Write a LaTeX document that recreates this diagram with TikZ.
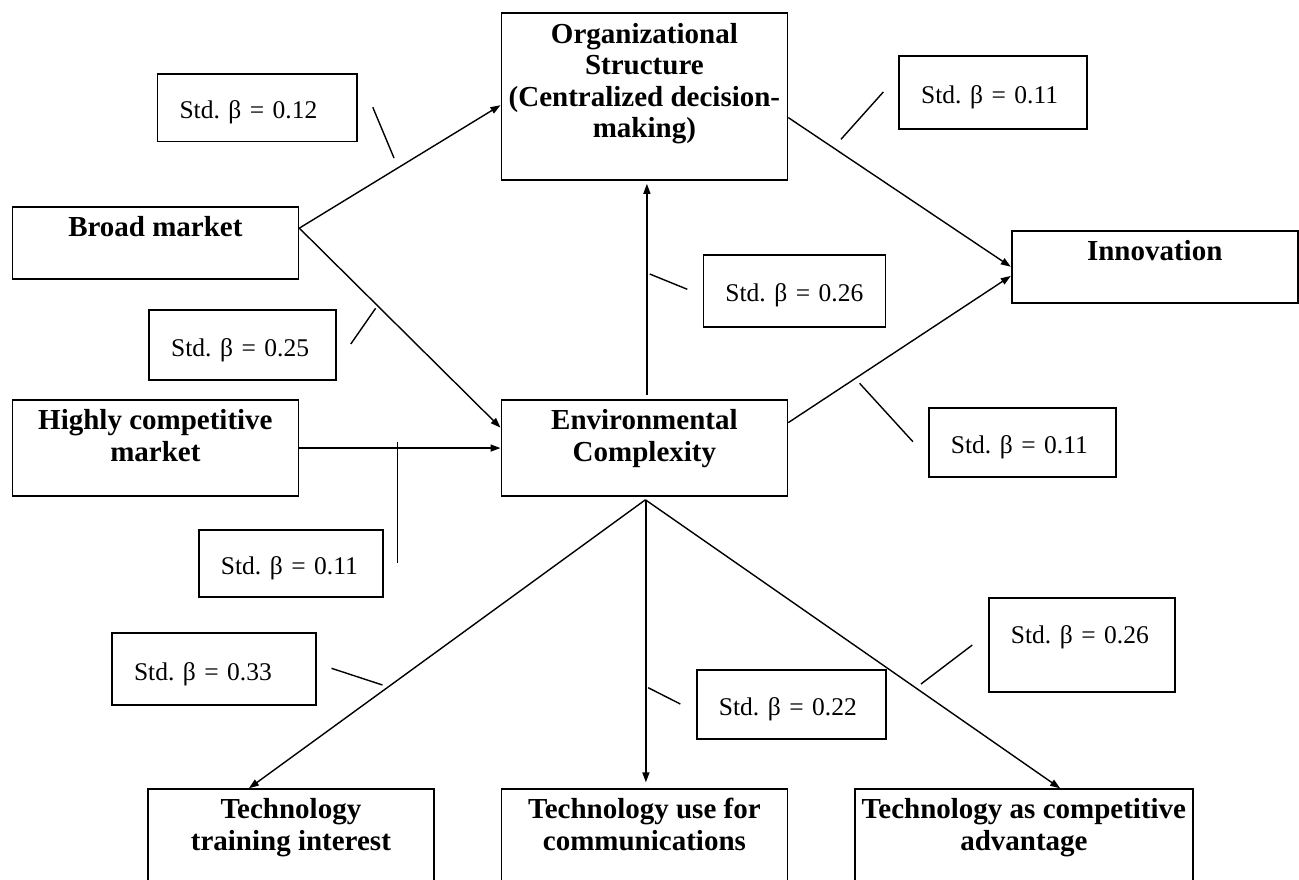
\documentclass[tikz,border=0pt]{standalone}
\usepackage{fontspec}
\setmainfont{Liberation Serif}
\usetikzlibrary{arrows.meta,calc}
\frenchspacing
\begin{document}
\begin{tikzpicture}[x=1pt,y=-1pt,
  box/.style={draw, line width=1.8pt, anchor=north west, inner sep=0pt, minimum width=286pt},
  ttl/.style={anchor=north, inner sep=0pt, align=center, font=\fontsize{29}{31.5}\selectfont\bfseries},
  lbl/.style={draw, line width=1.8pt, anchor=north west, inner xsep=22pt, inner ysep=0pt, align=left,
              font=\fontsize{25.5}{30}\selectfont, text height=22pt, text depth=0pt},
  arr/.style={line width=1.4pt, -{Triangle[length=10pt,width=7pt]}},
  tick/.style={line width=1.4pt}]
\useasboundingbox[fill=white] (0,0) rectangle (1299,880);
\clip (0,0) rectangle (1299,880);

% main boxes
\node[box, minimum height=167pt] (org) at (500.5,12) {};
\node[ttl] (orgT) at ($(org.north)+(0,11)$) {Organizational\\Structure\\(Centralized decision-\\making)};
\node[box, minimum height=71.7pt] (bm) at (11.5,206) {};
\node[ttl] (bmT) at ($(bm.north)+(0,10)$) {Broad market};
\node[box, minimum height=71.7pt] (inn) at (1010.8,230) {};
\node[ttl] (innT) at ($(inn.north)+(0,10)$) {Innovation};
\node[box, minimum height=95.7pt] (hc) at (11.5,399.3) {};
\node[ttl] (hcT) at ($(hc.north)+(0,10)$) {Highly competitive\\market};
\node[box, minimum height=95.7pt] (env) at (500.5,399.3) {};
\node[ttl] (envT) at ($(env.north)+(0,10)$) {Environmental\\Complexity};
\node[box, minimum height=130pt] (trn) at (147,788.3) {};
\node[ttl] (trnT) at ($(trn.north)+(0,10)$) {Technology\\training interest};
\node[box, minimum height=130pt] (use) at (500.5,788.3) {};
\node[ttl] (useT) at ($(use.north)+(0,10)$) {Technology use for\\communications};
\node[box, minimum height=130pt, minimum width=338pt] (adv) at (854,788.3) {};
\node[ttl] (advT) at ($(adv.north)+(0,10)$) {Technology as competitive\\advantage};

% label boxes
\node[lbl, text width=155.7pt, minimum height=67.4pt] (l1) at (156.6,73.3) {\mbox{Std. β = 0.12}};
\node[lbl, text width=143.5pt, minimum height=73.3pt] (l2) at (898.3,55) {\mbox{Std. β = 0.11}};
\node[lbl, text width=138pt, minimum height=71.7pt] (l3) at (702.5,254) {\mbox{Std. β = 0.26}};
\node[lbl, text width=142.9pt, minimum height=70.3pt] (l4) at (148.3,309) {\mbox{Std. β = 0.25}};
\node[lbl, text width=143pt, minimum height=69.3pt] (l5) at (928,406.7) {\mbox{Std. β = 0.11}};
\node[lbl, text width=140pt, minimum height=66.7pt] (l6) at (198,529.3) {\mbox{Std. β = 0.11}};
\node[lbl, text width=160pt, minimum height=71.7pt] (l7) at (111.1,632.3) {\mbox{Std. β = 0.33}};
\node[lbl, text width=145.3pt, minimum height=69pt] (l8) at (696,669.3) {\mbox{Std. β = 0.22}};
\node[lbl, text width=141.9pt, minimum height=93.4pt, text depth=24pt] (l9) at (988,597.3) {\mbox{Std. β = 0.26}};

% arrows
\draw[arr] ($(bm.east)+(0,-14.6)$) -- ($(org.west)+(0,8.8)$);
\draw[arr] ($(bm.east)+(0,-14.6)$) -- ($(env.west)+(0,-20.45)$);
\draw[arr] (hc.east) -- (env.west);
\draw[arr] ($(env.north)+(2.5,-4)$) -- ($(org.south)+(2.5,3)$);
\draw[arr] ($(org.east)+(0,21.2)$) -- (inn.west);
\draw[arr] ($(env.east)+(0,-25.45)$) -- ($(inn.west)+(0,9.2)$);
\draw[arr] ($(env.south)+(1,3)$) -- ($(trn.north)+(-42,0)$);
\draw[arr] ($(env.south)+(1.5,3)$) -- ($(use.north)+(1.5,-6)$);
\draw[arr] ($(env.south)+(1,3)$) -- ($(adv.north)+(36.2,0)$);

% ticks
\coordinate (t1a) at (372.8,107.3); \coordinate (t1b) at (394,158);
\coordinate (t2a) at (841,139.3);   \coordinate (t2b) at (883.3,92);
\coordinate (t3a) at (649.7,274);   \coordinate (t3b) at (687.3,289.3);
\coordinate (t4a) at (375.6,308.3); \coordinate (t4b) at (350.8,344);
\coordinate (t5a) at (859.6,383.3); \coordinate (t5b) at (912.9,441.7);
\coordinate (t6a) at (397.6,442.3); \coordinate (t6b) at (397.6,562.7);
\coordinate (t7a) at (331.5,668.3); \coordinate (t7b) at (382.5,685);
\coordinate (t8a) at (648.2,687.7); \coordinate (t8b) at (680.3,704);
\coordinate (t9a) at (921,684);     \coordinate (t9b) at (972.3,645);
\draw[tick] (t1a) -- (t1b);
\draw[tick] (t2a) -- (t2b);
\draw[tick] (t3a) -- (t3b);
\draw[tick] (t4a) -- (t4b);
\draw[tick] (t5a) -- (t5b);
\draw[tick] (t6a) -- (t6b);
\draw[tick] (t7a) -- (t7b);
\draw[tick] (t8a) -- (t8b);
\draw[tick] (t9a) -- (t9b);
\end{tikzpicture}
\end{document}
